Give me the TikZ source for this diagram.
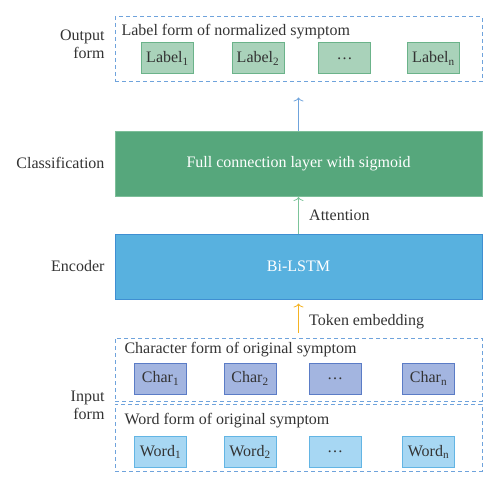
\documentclass[tikz,border=0pt]{standalone}
\usepackage{fontspec}
\setmainfont{Liberation Serif}
\usepackage{xcolor}
\usetikzlibrary{shapes,arrows,arrows.meta,positioning}

\definecolor{txtgray}{HTML}{333333}
\definecolor{dashblue}{HTML}{6FA3DC}
\definecolor{fcgreen}{HTML}{56A77C}
\definecolor{fcedge}{HTML}{7DBE99}
\definecolor{lstmblue}{HTML}{58B1DF}
\definecolor{lstmedge}{HTML}{3F8FD2}
\definecolor{labfill}{HTML}{A9D2BA}
\definecolor{labedge}{HTML}{6BB38A}
\definecolor{charfill}{HTML}{A3B5E0}
\definecolor{charedge}{HTML}{5B7CC6}
\definecolor{wordfill}{HTML}{A7D7F3}
\definecolor{wordedge}{HTML}{63B5E4}
\definecolor{attgreen}{HTML}{7CC49A}
\definecolor{tokorange}{HTML}{F5B323}

\begin{document}
\begin{tikzpicture}[x=1pt, y=-1pt, >={To[length=4pt,width=10pt]}, text=txtgray,
  font=\fontsize{16}{18}\selectfont,
  formbox/.style={draw=dashblue, dash pattern=on 4pt off 3pt, line width=1pt, minimum width=367pt, inner sep=0pt},
  layer/.style={line width=1pt, minimum width=367pt, minimum height=65pt, text=white},
  smallbox/.style={line width=1pt, minimum width=52pt, minimum height=31pt, inner sep=0pt}]
\useasboundingbox (0,0) rectangle (500,489);

% output form
\node[formbox, minimum height=65pt] (out) at (298.5, 49.5) {};
\node[anchor=west] (outtitle) at (118, 32) {Label form of normalized symptom};
\node[smallbox, draw=labedge, fill=labfill] (lab1) at (167.5, 58.5) {Label\textsubscript{1}};
\node[smallbox, draw=labedge, fill=labfill] (lab2) at (258, 58.5) {Label\textsubscript{2}};
\node[smallbox, draw=labedge, fill=labfill] (labd) at (344.5, 58.5) {\dots};
\node[smallbox, draw=labedge, fill=labfill] (labn) at (433.5, 58.5) {Label\textsubscript{n}};

% layers
\node[layer, draw=fcedge, fill=fcgreen] (fc) at (298.5, 164) {Full connection layer with sigmoid};
\node[layer, draw=lstmedge, fill=lstmblue] (lstm) at (298.5, 266.5) {Bi-LSTM};

% input form
\node[formbox, minimum height=63pt] (charform) at (298.5, 369.5) {};
\node[formbox, minimum height=67pt] (wordform) at (298.5, 437.5) {};
\node[anchor=west] (chartitle) at (121, 350) {Character form of original symptom};
\node[anchor=west] (wordtitle) at (121, 421) {Word form of original symptom};
\node[smallbox, draw=charedge, fill=charfill] (char1) at (160.5, 378.5) {Char\textsubscript{1}};
\node[smallbox, draw=charedge, fill=charfill] (char2) at (250, 378.5) {Char\textsubscript{2}};
\node[smallbox, draw=charedge, fill=charfill] (chard) at (335, 378.5) {\dots};
\node[smallbox, draw=charedge, fill=charfill] (charn) at (428.5, 378.5) {Char\textsubscript{n}};
\node[smallbox, draw=wordedge, fill=wordfill] (word1) at (160.5, 452) {Word\textsubscript{1}};
\node[smallbox, draw=wordedge, fill=wordfill] (word2) at (250, 452) {Word\textsubscript{2}};
\node[smallbox, draw=wordedge, fill=wordfill] (wordd) at (335, 452) {\dots};
\node[smallbox, draw=wordedge, fill=wordfill] (wordn) at (428.5, 452) {Word\textsubscript{n}};

% side labels
\node[anchor=east, align=right] (outlab) at (108, 44) {Output\\form};
\node[anchor=east] (clslab) at (108, 163) {Classification};
\node[anchor=east] (enclab) at (108, 266) {Encoder};
\node[anchor=east, align=right] (inlab) at (108, 405) {Input\\form};

% arrows
\draw[->, dashblue, line width=0.8pt, shorten >=15pt] (fc) -- (out);
\draw[->, attgreen, line width=0.8pt] (lstm) -- node[right=7pt, text=txtgray] {Attention} (fc);
\draw[->, tokorange, line width=0.8pt, shorten <=5pt, shorten >=4pt] (charform) -- node[right=7pt, text=txtgray, yshift=-3pt] {Token embedding} (lstm);

\end{tikzpicture}
\end{document}
